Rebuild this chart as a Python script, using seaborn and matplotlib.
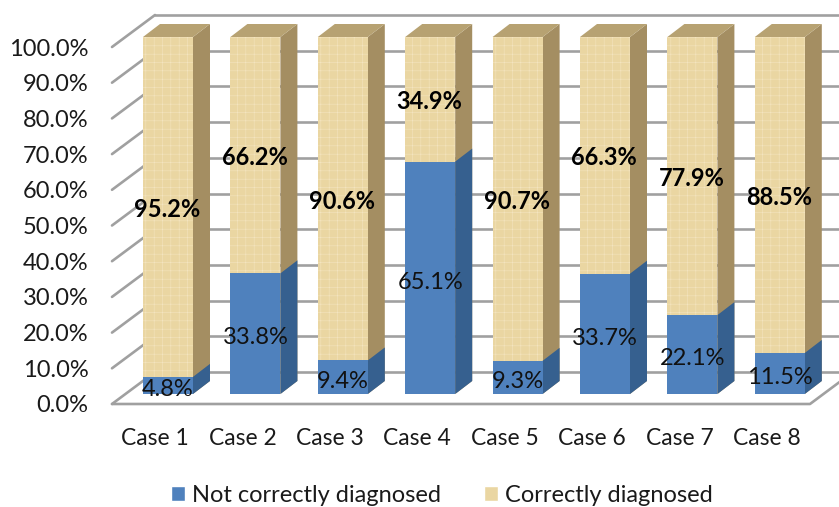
import matplotlib
matplotlib.use("Agg")
import matplotlib.pyplot as plt
from matplotlib.patches import Patch
from matplotlib.transforms import ScaledTranslation
import seaborn as sns
import pandas as pd

cases = ["Case 1", "Case 2", "Case 3", "Case 4", "Case 5", "Case 6", "Case 7", "Case 8"]
not_correct = [4.8, 33.8, 9.4, 65.1, 9.3, 33.7, 22.1, 11.5]
correct = [95.2, 66.2, 90.6, 34.9, 90.7, 66.3, 77.9, 88.5]
grid_values = [0, 10, 20, 30, 40, 50, 60, 70, 80, 90, 100]

sns.set_theme(style="white")
plt.rcParams["font.family"] = ["Lato", "DejaVu Sans"]
plt.rcParams["hatch.linewidth"] = 0.4

W, H = 839, 507
PITCH = 87.4          # px per category
SCALE = 3.57          # px per percent
X0, Y0 = 168, 394     # pixel of Case 1 centre, bar base
dep_x, dep_y = 17 / PITCH, 13 / SCALE
floor_y = -10 / SCALE
wall_y = 22 / SCALE
left_x = (112 - X0) / PITCH
wall_x = (155 - X0) / PITCH
right_x = (810 - X0) / PITCH

fig = plt.figure(figsize=(W / 100, H / 100), dpi=100)
ax_l, ax_r, ax_b, ax_t = 112, 839, 404, 14
ax = fig.add_axes([ax_l / W, 1 - ax_b / H, (ax_r - ax_l) / W, (ax_b - ax_t) / H])
ax.patch.set_alpha(0)

df = pd.DataFrame({"case": cases, "low": not_correct,
                   "total": [a + b for a, b in zip(not_correct, correct)]})
bar_w = 50 / PITCH
sns.barplot(data=df, x="case", y="total", ax=ax, color="#EAD6A2", width=bar_w,
            saturation=1, linewidth=0, zorder=4)
n_sand = len(ax.patches)
sns.barplot(data=df, x="case", y="low", ax=ax, color="#4F81BD", width=bar_w,
            saturation=1, linewidth=0, zorder=6)

ax.set_xlim((ax_l - X0) / PITCH, (ax_r - X0) / PITCH)
ax.set_ylim((Y0 - ax_b) / SCALE, (Y0 - ax_t) / SCALE)
ax.set_xlabel("")
ax.set_ylabel("")
sns.despine(ax=ax, left=True, bottom=True)

GRID = "#A0A0A0"
for v in grid_values:
    ax.plot([left_x, wall_x], [v + floor_y, v + wall_y], color=GRID, lw=1.9, zorder=1, clip_on=False)
    ax.plot([wall_x, 9], [v + wall_y, v + wall_y], color=GRID, lw=1.9, zorder=1, clip_on=False)
ax.plot([left_x, right_x, right_x + (wall_x - left_x)], [floor_y, floor_y, wall_y],
        color=GRID, lw=1.9, zorder=1, clip_on=False)

patches = list(ax.patches)
for i, p in enumerate(patches):
    x, w, y, h = p.get_x(), p.get_width(), p.get_y(), p.get_height()
    sand = i < n_sand
    side = "#A48E62" if sand else "#36608F"
    z = 3 if sand else 5
    ax.fill([x + w, x + w + dep_x, x + w + dep_x, x + w],
            [y, y + dep_y, y + h + dep_y, y + h], color=side, lw=0, zorder=z)
    if sand:
        ax.fill([x, x + dep_x, x + w + dep_x, x + w],
                [y + h, y + h + dep_y, y + h + dep_y, y + h], color="#B7A272", lw=0, zorder=z)
        p.set_hatch("++")
        p.set_edgecolor("#F3E4BF")

for i, (lo, hi) in enumerate(zip(not_correct, correct)):
    ax.text(i, lo / 2 - 1.2, f"{lo:.1f}%", ha="center", va="center", fontsize=17, color="#111111", zorder=8)
    ax.text(i - 0.01, lo + hi / 2 - 0.7, f"{hi:.1f}%", ha="center", va="center", fontsize=17,
            fontweight="bold", color="black", zorder=8)

ax.set_yticks([v + floor_y for v in grid_values])
ax.set_yticklabels([f"{v:.1f}%" for v in grid_values], fontsize=17, color="#1a1a1a")
ax.tick_params(axis="y", length=0, pad=17)
ax.tick_params(axis="x", length=0, pad=17.5, labelsize=16.4, labelcolor="#1a1a1a")
shift = ScaledTranslation(-13 / 100, 0, fig.dpi_scale_trans)
for lab in ax.get_xticklabels():
    lab.set_transform(lab.get_transform() + shift)

handles = [Patch(facecolor="#4F81BD", label="Not correctly diagnosed"),
           Patch(facecolor="#EAD6A2", label="Correctly diagnosed")]
fig.legend(handles=handles, loc="center", bbox_to_anchor=(442 / W, 1 - 495.5 / H), ncol=2, frameon=False,
           fontsize=17, handlelength=0.6, handleheight=0.6, handletextpad=0.3, columnspacing=1.8,
           labelcolor="#1a1a1a", borderpad=0)

fig.savefig("out.png", dpi=100, facecolor="white")
